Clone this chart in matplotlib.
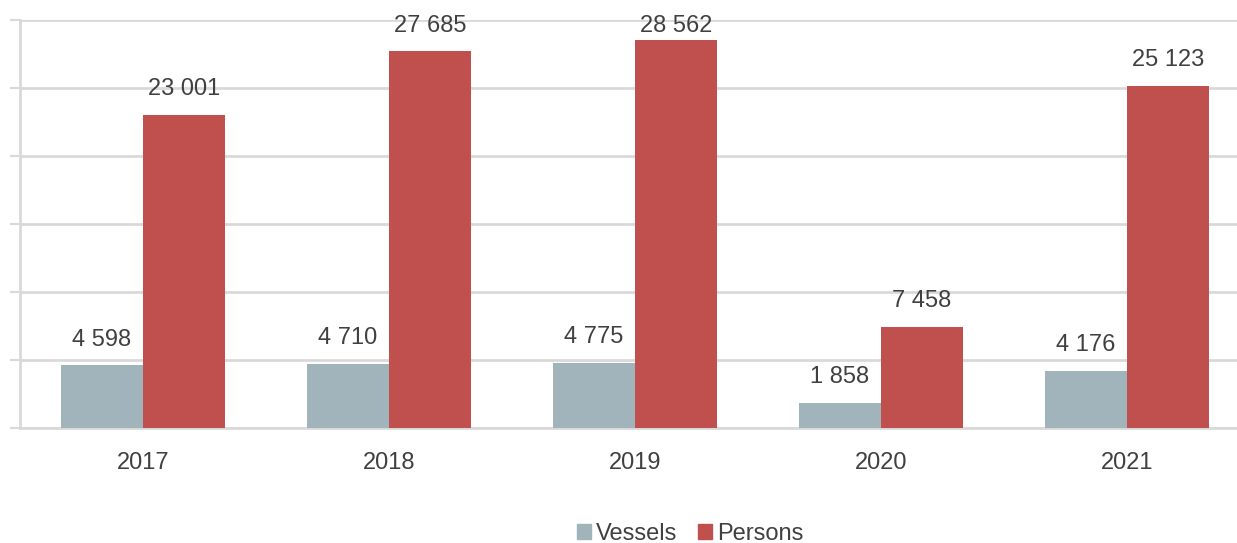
import matplotlib.pyplot as plt
from matplotlib.patches import Patch

years = ["2017", "2018", "2019", "2020", "2021"]
vessels = [4598, 4710, 4775, 1858, 4176]
persons = [23001, 27685, 28562, 7458, 25123]

VESSEL_COLOR = "#A2B4BB"
PERSON_COLOR = "#C0504D"
TEXT_COLOR = "#404040"
GRID_COLOR = "#D9D9D9"


def fmt(v):
    return f"{v:,}".replace(",", " ")


def plot_chart():
    plt.rcParams["font.family"] = ["Liberation Sans", "DejaVu Sans"]

    fig = plt.figure(figsize=(12.37, 5.43), dpi=100)
    ax = fig.add_axes([20 / 1237, 115 / 543, 1217 / 1237, 408 / 543])

    x = list(range(len(years)))
    w = 1 / 3
    ax.bar([i - w / 2 for i in x], vessels, width=w, color=VESSEL_COLOR, zorder=3)
    ax.bar([i + w / 2 for i in x], persons, width=w, color=PERSON_COLOR, zorder=3)

    # value labels, kept inside the plot area at the top
    for i in x:
        ax.text(i - w / 2, min(vessels[i] + 1900, 29550), fmt(vessels[i]),
                ha="center", va="center", fontsize=17, color=TEXT_COLOR, zorder=4)
        ax.text(i + w / 2, min(persons[i] + 1900, 29550), fmt(persons[i]),
                ha="center", va="center", fontsize=17, color=TEXT_COLOR, zorder=4)

    ax.set_xlim(-0.5, -0.5 + 1217 / 246)
    ax.set_ylim(0, 30000)
    ax.set_yticks(range(0, 30001, 5000))
    ax.set_yticklabels([])
    ax.set_xticks(x)
    ax.set_xticklabels(years, fontsize=17, color=TEXT_COLOR)

    ax.grid(axis="y", color=GRID_COLOR, linewidth=2, zorder=0)
    ax.tick_params(axis="x", length=0, pad=17)
    ax.tick_params(axis="y", length=7, width=1.5, color=GRID_COLOR, direction="out")

    for side in ["top", "right"]:
        ax.spines[side].set_visible(False)
    for side in ["left", "bottom"]:
        ax.spines[side].set_color(GRID_COLOR)
        ax.spines[side].set_linewidth(2)

    handles = [Patch(color=VESSEL_COLOR, label="Vessels"),
               Patch(color=PERSON_COLOR, label="Persons")]
    fig.legend(handles=handles, loc="center", bbox_to_anchor=(690 / 1237, 9 / 543),
               ncol=2, frameon=False, fontsize=17, labelcolor=TEXT_COLOR,
               handlelength=0.6, handleheight=0.6, handletextpad=0.2, columnspacing=0.9)

    fig.savefig("out.png", dpi=100)
    plt.close(fig)


if __name__ == "__main__":
    plot_chart()
